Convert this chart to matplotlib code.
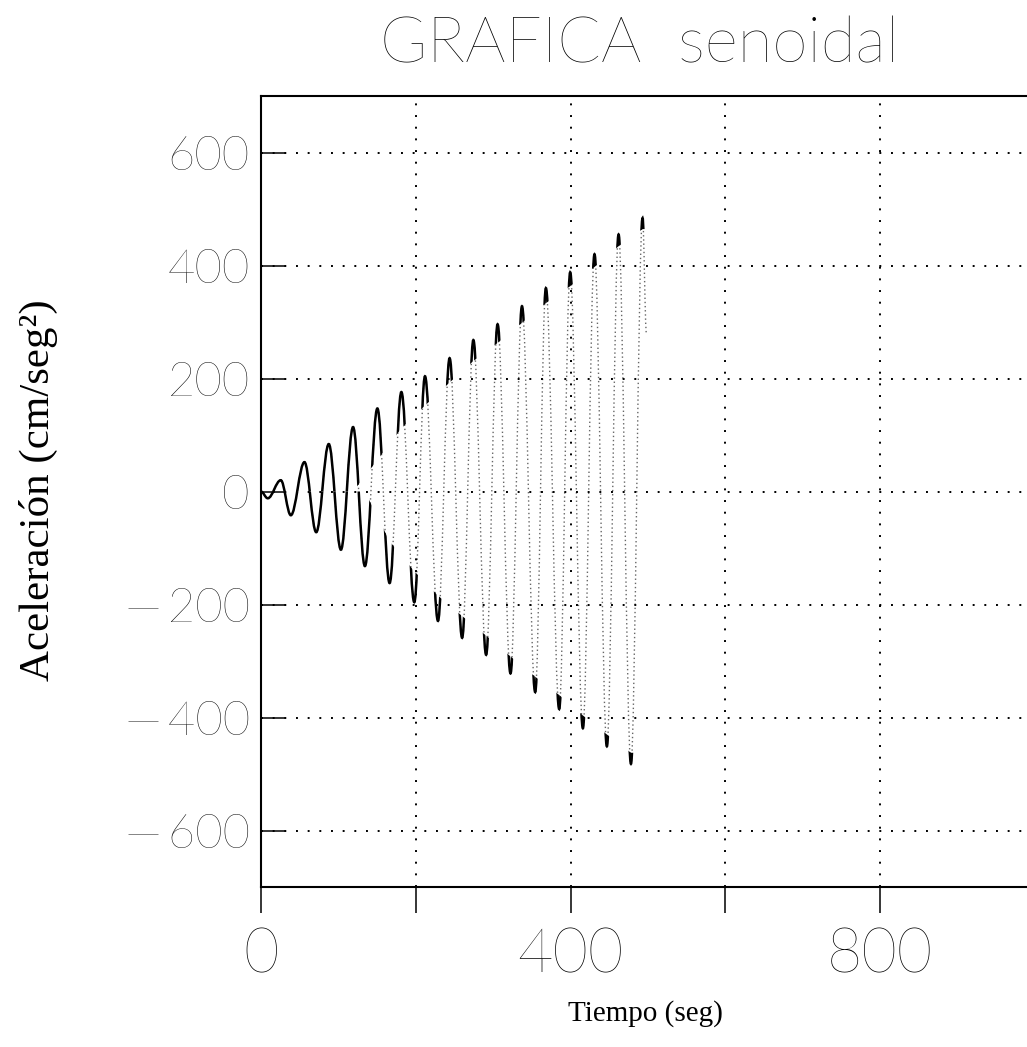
import numpy as np
import matplotlib
matplotlib.use("Agg")
import matplotlib.pyplot as plt
from matplotlib.path import Path
from matplotlib.patches import PathPatch, Polygon

# maximos y minimos (tiempo en seg, aceleracion en cm/seg2)
t_ext = [0, 8.8, 25.6, 38.6, 56.2, 71.4, 87.6, 103.3, 119, 134.3, 150.4, 166.2,
         181.4, 198.1, 211.9, 228.7, 243.7, 259.9, 274.4, 290.9, 305.7, 322.4,
         337.2, 354.3, 368.1, 385.3, 399.5, 415.9, 430.9, 446.9, 462, 478, 493, 498]
acc_ext = [0, -12, 20, -42, 52, -72, 84, -103, 114, -132, 147, -162,
           176, -196, 204, -229, 236, -259, 268, -289, 296, -322,
           328, -355, 360, -385, 388, -419, 420, -451, 455, -482, 484, 280]

xticks = [0, 200, 400, 600, 800]
xticklabels = ["0", "", "400", "", "800"]
yticks = [-600, -400, -200, 0, 200, 400, 600]
yticklabels = ["\u2014\u2009600", "\u2014\u2009400", "\u2014\u2009200", "0", "200", "400", "600"]

thin = ["Lato", "DejaVu Sans"]

fig = plt.figure(figsize=(10.27, 10.47), dpi=100)
ax = fig.add_axes([0.2541, 0.1528, 0.7537, 0.7555])
ax.set_xlim(0, 1000)
ax.set_ylim(-700, 700)

# curva suave entre los extremos (bezier del propio matplotlib)
verts = [(t_ext[0], acc_ext[0])]
codes = [Path.MOVETO]
for i in range(1, len(t_ext)):
    d = (t_ext[i] - t_ext[i - 1]) * 0.364
    verts += [(t_ext[i - 1] + d, acc_ext[i - 1]), (t_ext[i] - d, acc_ext[i]),
              (t_ext[i], acc_ext[i])]
    codes += [Path.CURVE4] * 3
curve = Path(verts, codes)

# parte rapida: trazo punteado claro
ax.add_patch(PathPatch(curve, fill=False, ec="0.4", lw=1.0, ls=(0, (1, 2.0))))

# puntas y primeros ciclos: trazo negro
peaks = [(t, a) for t, a in zip(t_ext[:-1], acc_ext[:-1]) if a > 0]
valleys = [(t, a) for t, a in zip(t_ext, acc_ext) if a < 0]
up = [(-10, 0)] + [(t, np.sqrt(max(a * a - 136 ** 2, 0))) for t, a in peaks]
up += [(520, up[-1][1]), (520, 800), (-10, 800)]
lo = [(-10, 0)] + [(t, -np.sqrt(max(a * a - 136 ** 2, 0))) for t, a in valleys]
lo += [(520, lo[-1][1]), (520, -800), (-10, -800)]
for reg in (up, lo):
    clip = Polygon(reg, closed=True, transform=ax.transData)
    p = PathPatch(curve, fill=False, ec="black", lw=1.8)
    ax.add_patch(p)
    p.set_clip_path(clip)

ax.set_xticks(xticks)
ax.set_xticklabels(xticklabels, family=thin, fontweight=200, fontsize=44)
ax.set_yticks(yticks)
ax.set_yticklabels(yticklabels, family=thin, fontweight=200, fontsize=34)
ax.tick_params(axis="x", direction="out", length=19, width=1.1, pad=10,
               bottom=True, top=False)
ax.tick_params(axis="y", direction="in", length=18, width=1.1, pad=8,
               left=True, right=False)
ax.grid(True, color="black", ls=(0, (1, 5)), lw=1.4)
for s in ax.spines.values():
    s.set_linewidth(1.5)

fig.text(0.623, 0.957, "GRAFICA  senoidal", family=thin, fontweight=200,
         fontsize=46, ha="center", va="center")
fig.text(0.628, 0.032, "Tiempo (seg)", family="Liberation Serif",
         fontsize=21, ha="center", va="center")
fig.text(0.037, 0.532, "Aceleración (cm/seg²)", family="Liberation Serif",
         fontsize=31, rotation=90, ha="center", va="center")

fig.savefig("out.png", dpi=100, facecolor="white")
